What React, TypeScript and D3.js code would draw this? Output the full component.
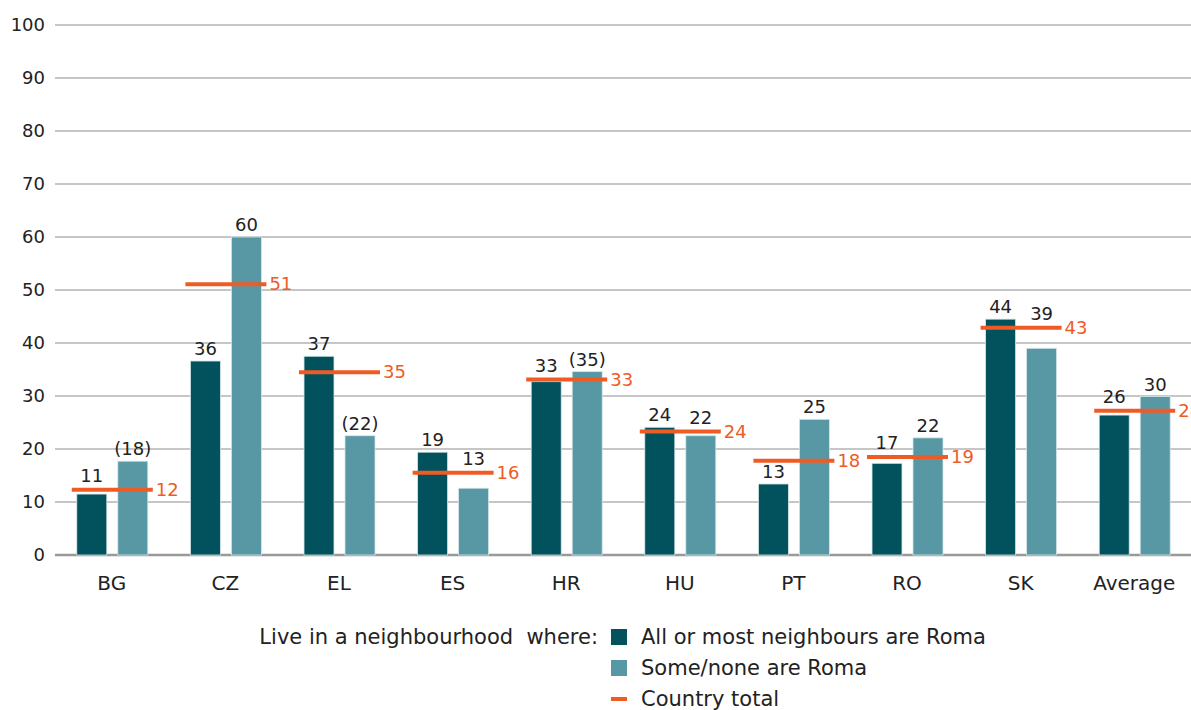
import React, { useMemo } from "react";
import * as d3 from "d3";

const WIDTH = 1191;
const HEIGHT = 710;
const MARGIN = { top: 25, right: 0, bottom: 155, left: 55 };

const countries = ["BG", "CZ", "EL", "ES", "HR", "HU", "PT", "RO", "SK", "Average"];
const mostRoma = [11.5, 36.6, 37.5, 19.4, 32.7, 24.1, 13.4, 17.3, 44.5, 26.4];
const someRoma = [17.7, 60, 22.5, 12.6, 34.6, 22.5, 25.6, 22.1, 39, 29.9];
const countryTotal = [12.3, 51.1, 34.5, 15.5, 33.1, 23.3, 17.8, 18.5, 42.9, 27.2];
const mostLabels = ["11", "36", "37", "19", "33", "24", "13", "17", "44", "26"];
const someLabels = ["(18)", "60", "(22)", "13", "(35)", "22", "25", "22", "39", "30"];
const totalLabels = ["12", "51", "35", "16", "33", "24", "18", "19", "43", "28"];
const yTicks = [0, 10, 20, 30, 40, 50, 60, 70, 80, 90, 100];

const legendTitle = "Live in a neighbourhood  where:";
const legendItems = ["All or most neighbours are Roma", "Some/none are Roma", "Country total"];

const DARK = "#02525e";
const LIGHT = "#5898a4";
const ORANGE = "#ef5b25";
const FONT = "'DejaVu Sans', sans-serif";

// label sits above the bar, or above the total line when the line runs through it
const labelY = (barTop: number, lineY: number) =>
  lineY >= barTop - 22 && lineY <= barTop + 6 ? Math.min(barTop, lineY - 2) - 6 : barTop - 6;

export default function App() {
  const boundsWidth = WIDTH - MARGIN.left - MARGIN.right;
  const boundsHeight = HEIGHT - MARGIN.top - MARGIN.bottom;

  const xScale = useMemo(
    () => d3.scaleBand().domain(countries).range([0, boundsWidth]),
    [boundsWidth]
  );
  const yScale = useMemo(
    () => d3.scaleLinear().domain([0, 100]).range([boundsHeight, 0]),
    [boundsHeight]
  );

  const barW = 30;
  const halfLine = 40;

  const groups = countries.map((c, i) => {
    const cx = (xScale(c) ?? 0) + xScale.bandwidth() / 2;
    const lineY = yScale(countryTotal[i]);
    const darkTop = yScale(mostRoma[i]);
    const lightTop = yScale(someRoma[i]);
    return (
      <g key={c}>
        <rect
          x={cx - 35}
          y={darkTop}
          width={barW}
          height={boundsHeight - darkTop}
          fill={DARK}
          stroke="#d6e6e8"
          strokeWidth={0.8}
        />
        <rect
          x={cx + 6}
          y={lightTop}
          width={barW}
          height={boundsHeight - lightTop}
          fill={LIGHT}
          stroke="#d6e6e8"
          strokeWidth={0.8}
        />
        <line x1={cx - halfLine} x2={cx + halfLine + 1} y1={lineY} y2={lineY} stroke={ORANGE} strokeWidth={4} />
        <text x={cx - 20} y={labelY(darkTop, lineY)} textAnchor="middle" fontSize={18} fill="#222">
          {mostLabels[i]}
        </text>
        <text x={cx + 21} y={labelY(lightTop, lineY)} textAnchor="middle" fontSize={18} fill="#222">
          {someLabels[i]}
        </text>
        <text x={cx + halfLine + 4} y={lineY + 6} fontSize={18} fill={ORANGE}>
          {totalLabels[i]}
        </text>
        <text x={cx} y={boundsHeight + 35} textAnchor="middle" fontSize={20} fill="#222">
          {c}
        </text>
      </g>
    );
  });

  const legendX = 611;
  const legendY = [637, 668, 699];

  return (
    <svg
      width={WIDTH}
      height={HEIGHT}
      style={{ position: "absolute", left: 0, top: 0, background: "#fff" }}
      fontFamily={FONT}
    >
      <g transform={`translate(${MARGIN.left},${MARGIN.top})`}>
        {yTicks.map((t) => (
          <g key={t}>
            <line
              x1={0}
              x2={boundsWidth}
              y1={yScale(t)}
              y2={yScale(t)}
              stroke={t === 0 ? "#999" : "#b3b3b3"}
              strokeWidth={t === 0 ? 2.5 : 1.5}
            />
            <text x={-10} y={yScale(t) + 6} textAnchor="end" fontSize={18} fill="#222">
              {t}
            </text>
          </g>
        ))}
        {groups}
      </g>
      <g fontSize={21} fill="#222">
        <text x={598} y={legendY[0] + 7} textAnchor="end" style={{ whiteSpace: "pre" }}>
          {legendTitle}
        </text>
        <rect x={legendX} y={legendY[0] - 8} width={16} height={16} fill={DARK} />
        <rect x={legendX} y={legendY[1] - 8} width={16} height={16} fill={LIGHT} />
        <rect x={legendX} y={legendY[2] - 2} width={16} height={4} fill={ORANGE} />
        {legendItems.map((label, i) => (
          <text key={label} x={legendX + 30} y={legendY[i] + 7}>
            {label}
          </text>
        ))}
      </g>
    </svg>
  );
}
